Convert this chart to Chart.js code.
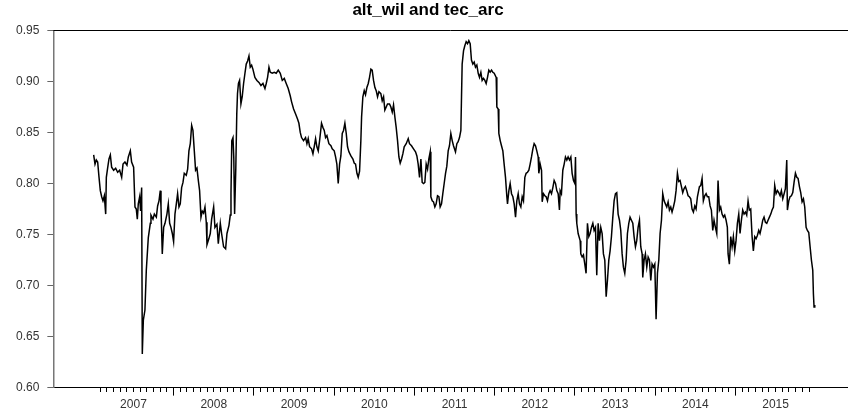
<!DOCTYPE html>
<html lang="en">
<head>
<meta charset="UTF-8">
<title>alt_wil and tec_arc</title>
<script src="https://cdn.jsdelivr.net/npm/chart.js@4.4.1/dist/chart.umd.min.js"></script>
<style>
  html, body { margin: 0; padding: 0; background: #fff; }
</style>
</head>
<body>
<canvas id="chart" width="848" height="412"></canvas>
<script>
// dates are decimal years, values are the alt_wil / tec_arc series
const dates = [
  2007.004, 2007.021, 2007.037, 2007.054, 2007.071, 2007.087, 2007.104, 2007.120, 2007.137, 2007.154,
  2007.162, 2007.178, 2007.195, 2007.212, 2007.228, 2007.253, 2007.278, 2007.303, 2007.328, 2007.353,
  2007.370, 2007.394, 2007.419, 2007.436, 2007.461, 2007.477, 2007.502, 2007.519, 2007.535, 2007.548,
  2007.560, 2007.577, 2007.589, 2007.602, 2007.610, 2007.623, 2007.643, 2007.660, 2007.685, 2007.710,
  2007.718, 2007.743, 2007.760, 2007.785, 2007.801, 2007.818, 2007.834, 2007.843, 2007.859, 2007.876,
  2007.893, 2007.917, 2007.934, 2007.951, 2007.967, 2007.984,
  2008.000, 2008.017, 2008.034, 2008.050, 2008.067, 2008.083, 2008.100, 2008.117, 2008.133, 2008.158,
  2008.175, 2008.191, 2008.208, 2008.225, 2008.241, 2008.258, 2008.274, 2008.291, 2008.308, 2008.324,
  2008.341, 2008.357, 2008.374, 2008.391, 2008.407, 2008.416, 2008.440, 2008.457, 2008.474, 2008.499,
  2008.515, 2008.540, 2008.557, 2008.582, 2008.598, 2008.623, 2008.648, 2008.665, 2008.690, 2008.706,
  2008.715, 2008.725, 2008.740, 2008.750, 2008.760, 2008.775, 2008.787, 2008.796, 2008.808, 2008.822,
  2008.839, 2008.855, 2008.872, 2008.889, 2008.905, 2008.922, 2008.939, 2008.955, 2008.972, 2008.988,
  2009.013, 2009.038, 2009.063, 2009.088, 2009.113, 2009.138, 2009.154, 2009.171, 2009.188, 2009.204,
  2009.229, 2009.254, 2009.279, 2009.304, 2009.329, 2009.354, 2009.379, 2009.403, 2009.428, 2009.453,
  2009.470, 2009.495, 2009.520, 2009.545, 2009.561, 2009.578, 2009.594, 2009.619, 2009.644, 2009.661,
  2009.677, 2009.694, 2009.719, 2009.736, 2009.752, 2009.769, 2009.785, 2009.802, 2009.819, 2009.843,
  2009.860, 2009.877, 2009.893, 2009.910, 2009.935, 2009.960, 2009.976,
  2010.001, 2010.018, 2010.034, 2010.051, 2010.068, 2010.084, 2010.101, 2010.117, 2010.134, 2010.151,
  2010.167, 2010.184, 2010.209, 2010.234, 2010.250, 2010.267, 2010.284, 2010.300, 2010.317, 2010.333,
  2010.342, 2010.358, 2010.375, 2010.391, 2010.408, 2010.425, 2010.441, 2010.458, 2010.474, 2010.491,
  2010.508, 2010.524, 2010.541, 2010.558, 2010.582, 2010.599, 2010.616, 2010.632, 2010.649, 2010.665,
  2010.690, 2010.707, 2010.724, 2010.740, 2010.757, 2010.773, 2010.790, 2010.807, 2010.823, 2010.840,
  2010.856, 2010.873, 2010.898, 2010.923, 2010.939, 2010.964, 2010.989,
  2011.014, 2011.031, 2011.047, 2011.064, 2011.081, 2011.097, 2011.114, 2011.130, 2011.147, 2011.164,
  2011.180, 2011.197, 2011.205, 2011.222, 2011.238, 2011.255, 2011.271, 2011.288, 2011.305, 2011.321,
  2011.338, 2011.354, 2011.371, 2011.388, 2011.404, 2011.421, 2011.437, 2011.454, 2011.471, 2011.487,
  2011.512, 2011.529, 2011.545, 2011.562, 2011.579, 2011.587, 2011.595, 2011.612, 2011.628, 2011.645,
  2011.662, 2011.678, 2011.695, 2011.711, 2011.728, 2011.745, 2011.761, 2011.778, 2011.795, 2011.811,
  2011.828, 2011.844, 2011.861, 2011.878, 2011.894, 2011.911, 2011.927, 2011.944, 2011.961, 2011.977,
  2011.994,
  2012.019, 2012.027, 2012.044, 2012.052, 2012.069, 2012.085, 2012.102, 2012.118, 2012.135, 2012.152,
  2012.160, 2012.177, 2012.193, 2012.210, 2012.227, 2012.243, 2012.260, 2012.276, 2012.293, 2012.309,
  2012.326, 2012.343, 2012.359, 2012.376, 2012.392, 2012.409, 2012.426, 2012.442, 2012.459, 2012.476,
  2012.492, 2012.509, 2012.525, 2012.542, 2012.550, 2012.567, 2012.584, 2012.592, 2012.608, 2012.625,
  2012.641, 2012.658, 2012.675, 2012.691, 2012.708, 2012.725, 2012.741, 2012.758, 2012.774, 2012.791,
  2012.807, 2012.816, 2012.832, 2012.849, 2012.866, 2012.882, 2012.899, 2012.915, 2012.932, 2012.949,
  2012.965, 2012.982, 2012.999,
  2013.007, 2013.015, 2013.023, 2013.040, 2013.065, 2013.073, 2013.090, 2013.106, 2013.123, 2013.139,
  2013.156, 2013.173, 2013.189, 2013.206, 2013.223, 2013.239, 2013.256, 2013.272, 2013.289, 2013.305,
  2013.322, 2013.339, 2013.355, 2013.372, 2013.389, 2013.405, 2013.422, 2013.438, 2013.455, 2013.472,
  2013.488, 2013.505, 2013.521, 2013.538, 2013.555, 2013.571, 2013.588, 2013.604, 2013.621, 2013.638,
  2013.654, 2013.671, 2013.687, 2013.704, 2013.721, 2013.737, 2013.754, 2013.770, 2013.787, 2013.804,
  2013.820, 2013.837, 2013.845, 2013.862, 2013.878, 2013.895, 2013.912, 2013.928, 2013.945, 2013.961,
  2013.978, 2013.995,
  2014.011, 2014.028, 2014.045, 2014.061, 2014.078, 2014.094, 2014.111, 2014.127, 2014.144, 2014.161,
  2014.177, 2014.194, 2014.210, 2014.227, 2014.244, 2014.260, 2014.277, 2014.293, 2014.310, 2014.327,
  2014.343, 2014.360, 2014.376, 2014.393, 2014.410, 2014.426, 2014.443, 2014.459, 2014.476, 2014.493,
  2014.509, 2014.526, 2014.551, 2014.567, 2014.584, 2014.600, 2014.617, 2014.634, 2014.650, 2014.667,
  2014.684, 2014.700, 2014.717, 2014.733, 2014.750, 2014.767, 2014.783, 2014.800, 2014.816, 2014.833,
  2014.850, 2014.866, 2014.883, 2014.899, 2014.908, 2014.924, 2014.941, 2014.958, 2014.974, 2014.991,
  2015.007, 2015.024, 2015.041, 2015.057, 2015.074, 2015.090, 2015.107, 2015.124, 2015.140, 2015.157,
  2015.173, 2015.190, 2015.207, 2015.223, 2015.240, 2015.257, 2015.273, 2015.290, 2015.306, 2015.323,
  2015.340, 2015.356, 2015.373, 2015.390, 2015.406, 2015.423, 2015.440, 2015.456, 2015.473, 2015.489,
  2015.506, 2015.523, 2015.539, 2015.556, 2015.572, 2015.589, 2015.606, 2015.622, 2015.639, 2015.647,
  2015.664, 2015.680, 2015.697, 2015.714, 2015.730, 2015.747, 2015.764, 2015.780, 2015.797, 2015.813,
  2015.830, 2015.847, 2015.863, 2015.880, 2015.896, 2015.913, 2015.930, 2015.946, 2015.963, 2015.971,
  2015.979, 2015.988
];

const values = [
  0.828, 0.819, 0.823, 0.821, 0.806, 0.793, 0.787, 0.783, 0.788, 0.770,
  0.806, 0.815, 0.824, 0.828, 0.816, 0.813, 0.815, 0.811, 0.813, 0.806,
  0.819, 0.821, 0.818, 0.826, 0.832, 0.821, 0.816, 0.777, 0.775, 0.765,
  0.780, 0.787, 0.773, 0.796, 0.633, 0.666, 0.676, 0.715, 0.747, 0.761,
  0.769, 0.765, 0.770, 0.767, 0.778, 0.783, 0.793, 0.777, 0.731, 0.757,
  0.761, 0.770, 0.780, 0.761, 0.757, 0.751,
  0.743, 0.770, 0.780, 0.790, 0.777, 0.780, 0.796, 0.801, 0.810, 0.808,
  0.814, 0.832, 0.839, 0.857, 0.852, 0.832, 0.813, 0.815, 0.803, 0.793,
  0.767, 0.773, 0.771, 0.777, 0.762, 0.740, 0.746, 0.751, 0.765, 0.777,
  0.757, 0.760, 0.741, 0.761, 0.751, 0.738, 0.736, 0.751, 0.759, 0.769,
  0.790, 0.842, 0.845, 0.825, 0.770, 0.815, 0.868, 0.888, 0.898, 0.901,
  0.878, 0.885, 0.898, 0.908, 0.917, 0.920, 0.925, 0.914, 0.916, 0.912,
  0.904, 0.901, 0.899, 0.896, 0.898, 0.893, 0.898, 0.904, 0.914, 0.909,
  0.908, 0.909, 0.908, 0.911, 0.908, 0.901, 0.903, 0.898, 0.893, 0.886,
  0.880, 0.873, 0.868, 0.863, 0.859, 0.850, 0.845, 0.842, 0.845, 0.839,
  0.844, 0.836, 0.834, 0.829, 0.836, 0.844, 0.836, 0.832, 0.842, 0.859,
  0.855, 0.852, 0.845, 0.847, 0.839, 0.837, 0.834,
  0.832, 0.826, 0.819, 0.800, 0.819, 0.827, 0.849, 0.852, 0.859, 0.849,
  0.836, 0.831, 0.827, 0.824, 0.820, 0.819, 0.810, 0.806, 0.812, 0.842,
  0.865, 0.885, 0.891, 0.887, 0.894, 0.898, 0.904, 0.912, 0.911, 0.901,
  0.894, 0.891, 0.885, 0.890, 0.888, 0.881, 0.885, 0.872, 0.875, 0.878,
  0.878, 0.875, 0.870, 0.877, 0.865, 0.855, 0.842, 0.826, 0.820, 0.824,
  0.829, 0.836, 0.839, 0.844, 0.839, 0.837, 0.834,
  0.831, 0.827, 0.819, 0.806, 0.824, 0.801, 0.800, 0.801, 0.819, 0.814,
  0.824, 0.831, 0.787, 0.783, 0.782, 0.777, 0.780, 0.788, 0.787, 0.777,
  0.780, 0.790, 0.800, 0.810, 0.817, 0.832, 0.837, 0.849, 0.842, 0.837,
  0.831, 0.839, 0.841, 0.845, 0.852, 0.885, 0.917, 0.930, 0.935, 0.939,
  0.937, 0.940, 0.937, 0.921, 0.917, 0.919, 0.914, 0.916, 0.908, 0.904,
  0.909, 0.901, 0.903, 0.901, 0.898, 0.904, 0.911, 0.909, 0.911, 0.909,
  0.908,
  0.904, 0.875, 0.873, 0.849, 0.842, 0.837, 0.832, 0.819, 0.806, 0.787,
  0.780, 0.793, 0.800, 0.790, 0.787, 0.780, 0.767, 0.783, 0.790, 0.780,
  0.777, 0.787, 0.783, 0.806, 0.810, 0.811, 0.813, 0.819, 0.826, 0.834,
  0.839, 0.837, 0.832, 0.826, 0.810, 0.819, 0.813, 0.782, 0.790, 0.788,
  0.787, 0.783, 0.790, 0.793, 0.790, 0.796, 0.803, 0.800, 0.793, 0.790,
  0.774, 0.793, 0.790, 0.813, 0.819, 0.826, 0.823, 0.826, 0.823, 0.826,
  0.810, 0.803, 0.800,
  0.826, 0.770, 0.761, 0.751, 0.744, 0.731, 0.728, 0.730, 0.721, 0.712,
  0.761, 0.748, 0.751, 0.757, 0.761, 0.754, 0.757, 0.710, 0.761, 0.744,
  0.757, 0.751, 0.731, 0.725, 0.689, 0.705, 0.725, 0.734, 0.748, 0.767,
  0.783, 0.790, 0.791, 0.770, 0.764, 0.754, 0.731, 0.718, 0.712, 0.725,
  0.751, 0.761, 0.767, 0.764, 0.761, 0.748, 0.738, 0.744, 0.757, 0.764,
  0.738, 0.731, 0.708, 0.725, 0.731, 0.718, 0.728, 0.725, 0.705, 0.721,
  0.718, 0.721,
  0.667, 0.712, 0.725, 0.751, 0.764, 0.790, 0.783, 0.780, 0.777, 0.782,
  0.774, 0.777, 0.772, 0.777, 0.783, 0.793, 0.810, 0.802, 0.803, 0.797,
  0.791, 0.795, 0.797, 0.793, 0.788, 0.787, 0.785, 0.775, 0.772, 0.778,
  0.775, 0.787, 0.797, 0.798, 0.805, 0.783, 0.788, 0.790, 0.787, 0.787,
  0.778, 0.774, 0.754, 0.764, 0.757, 0.751, 0.803, 0.774, 0.777, 0.770,
  0.767, 0.769, 0.764, 0.757, 0.731, 0.721, 0.748, 0.738, 0.748, 0.734,
  0.744, 0.761, 0.770, 0.751, 0.764, 0.774, 0.770, 0.772, 0.769, 0.783,
  0.774, 0.775, 0.748, 0.734, 0.748, 0.746, 0.749, 0.754, 0.751, 0.757,
  0.764, 0.767, 0.762, 0.761, 0.764, 0.767, 0.770, 0.774, 0.777, 0.798,
  0.790, 0.793, 0.791, 0.788, 0.793, 0.785, 0.790, 0.795, 0.823, 0.774,
  0.783, 0.787, 0.788, 0.791, 0.801, 0.810, 0.806, 0.805, 0.797, 0.791,
  0.782, 0.785, 0.777, 0.757, 0.754, 0.752, 0.738, 0.725, 0.715, 0.692,
  0.679, 0.681
];

const years = [2007, 2008, 2009, 2010, 2011, 2012, 2013, 2014, 2015];
const yTicks = [0.60, 0.65, 0.70, 0.75, 0.80, 0.85, 0.90, 0.95];

const FONT = '"Liberation Sans", Arial, Helvetica, sans-serif';

// monthly ticks, Feb 2007 .. Dec 2015; Jan ticks mark the year boundaries
const monthTicks = [];
years.forEach(y => {
  for (let m = 0; m < 12; m++) {
    if (y === years[0] && m === 0) continue;
    monthTicks.push(y + m / 12);
  }
});
const isYearStart = v => Math.abs(v - Math.round(v)) < 1e-6;
const isMidYear = v => Math.abs(v - Math.floor(v) - 0.5) < 1e-6;

// thin black rule along the top of the plot
const topRule = {
  id: 'topRule',
  afterDraw(chart) {
    const { ctx, chartArea: a } = chart;
    const y = Math.round(a.top) + 0.5;
    ctx.save();
    ctx.strokeStyle = '#000';
    ctx.lineWidth = 1;
    ctx.beginPath();
    ctx.moveTo(a.left, y);
    ctx.lineTo(a.right, y);
    ctx.stroke();
    ctx.restore();
  }
};

const points = dates.map((d, i) => ({ x: d, y: values[i] }));

new Chart(document.getElementById('chart'), {
  type: 'line',
  data: {
    datasets: [{
      data: points,
      borderColor: '#000',
      borderWidth: 1.5,
      pointRadius: 0,
      tension: 0,
      fill: false
    }]
  },
  options: {
    responsive: false,
    animation: false,
    layout: { padding: { left: 8, right: 0, top: 0, bottom: -2 } },
    plugins: {
      legend: { display: false },
      tooltip: { enabled: false },
      title: {
        display: true,
        text: 'alt_wil and tec_arc',
        color: '#000',
        font: { family: FONT, size: 17, weight: 'bold' },
        padding: { top: 0, bottom: 10 }
      }
    },
    scales: {
      x: {
        type: 'linear',
        min: 2006.502,
        max: 2016.402,
        afterBuildTicks: scale => { scale.ticks = monthTicks.map(value => ({ value })); },
        ticks: {
          autoSkip: false,
          maxRotation: 0,
          padding: 2,
          color: '#333',
          font: { family: FONT, size: 12 },
          callback: v => isMidYear(v) ? String(Math.floor(v)) : ''
        },
        grid: {
          drawOnChartArea: false,
          tickLength: 8,
          tickColor: '#000',
          tickWidth: 1,
          tickBorderDash: ctx => (ctx.tick && isYearStart(ctx.tick.value)) ? [] : [4, 40]
        },
        border: { color: '#000', width: 1 }
      },
      y: {
        min: 0.60,
        max: 0.95,
        afterBuildTicks: scale => { scale.ticks = yTicks.map(value => ({ value })); },
        ticks: {
          padding: 8,
          color: '#333',
          font: { family: FONT, size: 12 },
          callback: v => v.toFixed(2)
        },
        grid: {
          drawOnChartArea: false,
          tickLength: 6,
          tickColor: '#666'
        },
        border: { color: '#777', width: 1.5 }
      }
    }
  },
  plugins: [topRule]
});
</script>
</body>
</html>
